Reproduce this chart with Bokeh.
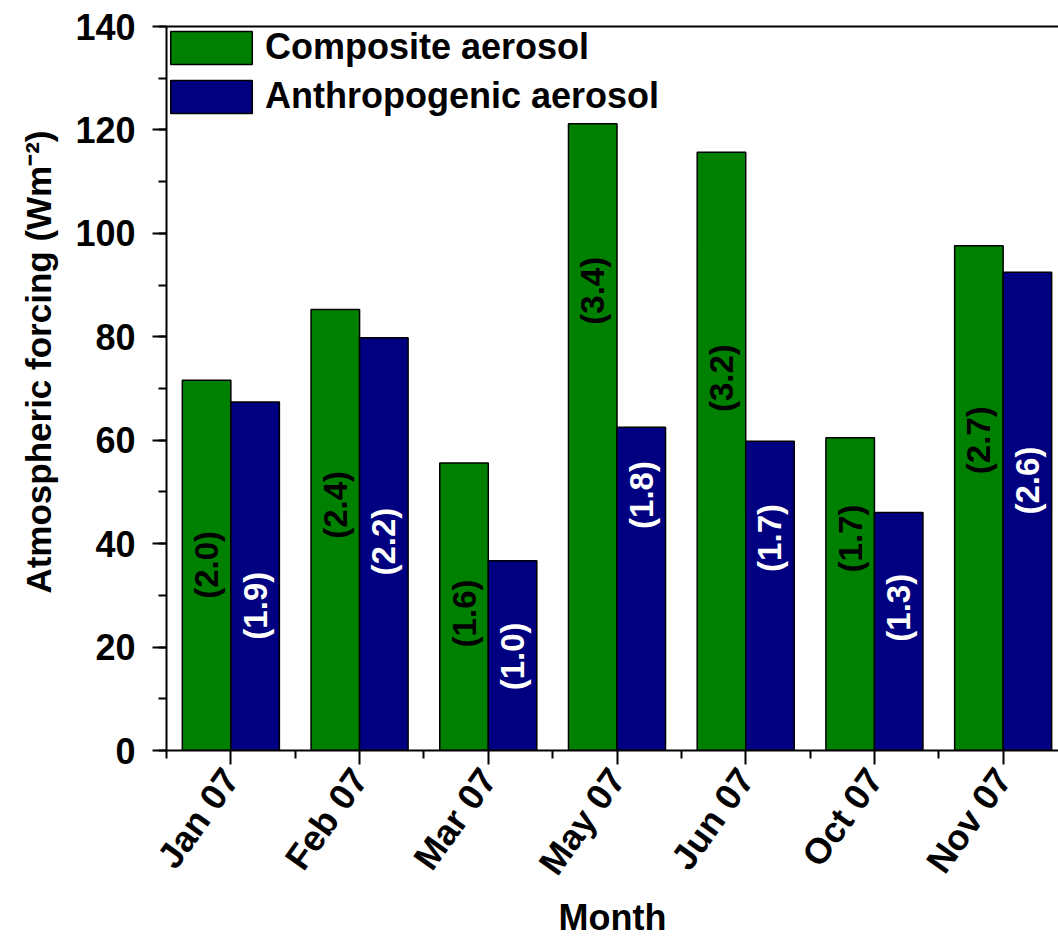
import math
import numpy as np
from bokeh.plotting import figure
from bokeh.models import (Range1d, FixedTicker, SingleIntervalTicker, LinearAxis,
                          Legend, LegendItem, ColumnDataSource, Title)
from bokeh.core.properties import value
from bokeh.embed import file_html
from bokeh.resources import INLINE

# ---------------- data ----------------
months = ["Jan 07", "Feb 07", "Mar 07", "May 07", "Jun 07", "Oct 07", "Nov 07"]
composite = [71.6, 85.3, 55.6, 121.2, 115.7, 60.5, 97.6]
anthropogenic = [67.4, 79.8, 36.7, 62.5, 59.8, 46.0, 92.5]
composite_ratio = ["(2.0)", "(2.4)", "(1.6)", "(3.4)", "(3.2)", "(1.7)", "(2.7)"]
anthropogenic_ratio = ["(1.9)", "(2.2)", "(1.0)", "(1.8)", "(1.7)", "(1.3)", "(2.6)"]
composite_label_y = [35.9, 47.5, 26.5, 88.9, 72.0, 41.0, 60.0]
anthropogenic_label_y = [28.0, 40.4, 18.2, 49.4, 41.1, 27.6, 52.2]

FONT = "Liberation Sans"
GREEN = "#008000"
NAVY = "#000080"
BAR_W = 0.377

idx = np.arange(len(months))
src_c = ColumnDataSource(dict(x=idx - BAR_W / 2, top=composite,
                              ly=composite_label_y, txt=composite_ratio))
src_a = ColumnDataSource(dict(x=idx + BAR_W / 2, top=anthropogenic,
                              ly=anthropogenic_label_y, txt=anthropogenic_ratio))

p = figure(width=1058, height=941,
           x_range=Range1d(-0.5, 6.43), y_range=Range1d(0, 140),
           output_backend="svg", toolbar_location=None,
           min_border_left=166, min_border_right=0,
           min_border_top=26, min_border_bottom=190)
p.outline_line_color = None
p.xgrid.visible = False
p.ygrid.visible = False
p.background_fill_color = "white"
p.border_fill_color = "white"

r1 = p.vbar(x="x", top="top", width=BAR_W, source=src_c,
            fill_color=GREEN, line_color="black", line_width=1.5)
r2 = p.vbar(x="x", top="top", width=BAR_W, source=src_a,
            fill_color=NAVY, line_color="black", line_width=1.5)

p.text(x="x", y="ly", text="txt", source=src_c, angle=math.pi / 2,
       text_align="center", text_baseline="middle", text_color="black",
       text_font=value(FONT), text_font_style="bold", text_font_size="33px")
p.text(x="x", y="ly", text="txt", source=src_a, angle=math.pi / 2,
       text_align="center", text_baseline="middle", text_color="white",
       text_font=value(FONT), text_font_style="bold", text_font_size="33px")

# ---- axes ----
for ax in (p.xaxis[0], p.yaxis[0]):
    ax.axis_line_width = 2
    ax.major_tick_line_width = 2
    ax.minor_tick_line_width = 2
    ax.major_tick_in = 0
    ax.minor_tick_in = 0
    ax.major_tick_out = 14
    ax.minor_tick_out = 8
    ax.major_label_text_font = FONT
    ax.major_label_text_font_style = "bold"
    ax.major_label_text_font_size = "36px"
    ax.major_label_text_color = "black"
    ax.axis_label_text_font = FONT
    ax.axis_label_text_font_style = "bold"
    ax.axis_label_text_font_size = "36px"
    ax.axis_label_text_color = "black"

p.yaxis.ticker = SingleIntervalTicker(interval=20, num_minor_ticks=2)
p.yaxis.major_label_standoff = 17

ytitle = Title(text="Atmospheric forcing (Wm\u207b\u00b2)", align="right", offset=104,
               text_font=FONT, text_font_style="bold", text_font_size="35px",
               text_color="black", standoff=30)
p.add_layout(ytitle, "left")

p.xaxis.ticker = FixedTicker(ticks=list(idx),
                             minor_ticks=[i - 0.5 for i in range(len(months) + 1)])
p.xaxis.major_label_overrides = {int(i): m for i, m in zip(idx, months)}
p.xaxis.major_label_orientation = 0.95
p.xaxis.major_label_standoff = 8
p.xaxis.axis_label = "Month"
p.xaxis.axis_label_standoff = 0

top_axis = LinearAxis(ticker=FixedTicker(ticks=[]), axis_line_width=2,
                      major_tick_out=0, minor_tick_out=0,
                      major_label_text_font_size="0px")
p.add_layout(top_axis, "above")

legend = Legend(items=[LegendItem(label="Composite aerosol", renderers=[r1]),
                       LegendItem(label="Anthropogenic aerosol", renderers=[r2])],
                location=(-6, 633), glyph_width=102, glyph_height=41,
                spacing=7, padding=0, margin=0, label_standoff=3,
                label_text_font=FONT, label_text_font_style="bold",
                label_text_font_size="36px", label_text_color="black",
                border_line_color=None, background_fill_alpha=0)
p.add_layout(legend)

open("out.html", "w").write(file_html(p, INLINE))
